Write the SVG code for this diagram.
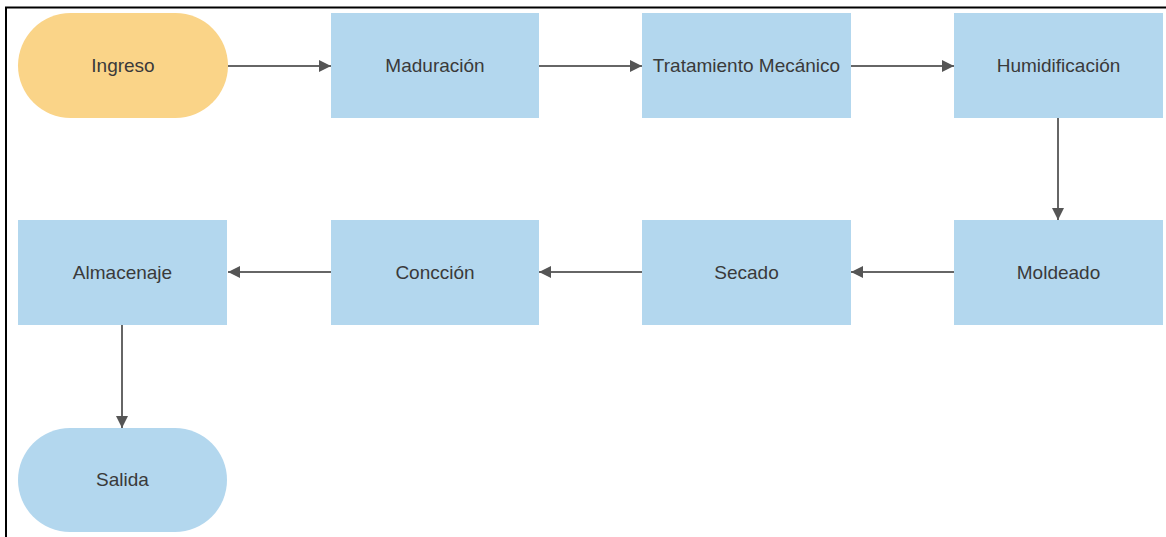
<svg xmlns="http://www.w3.org/2000/svg" width="1166" height="537" viewBox="0 0 1166 537">
  <style>
    .box { fill: #b3d7ee; }
    .start { fill: #fad488; }
    .lbl { font-family: "Liberation Sans", Arial, sans-serif; font-size: 19px; fill: #3a3a3a; text-anchor: middle; dominant-baseline: central; }
    .conn { stroke: #666666; stroke-width: 2; fill: none; marker-end: url(#arrow); }
  </style>
  <defs>
    <marker id="arrow" viewBox="0 0 12 12" refX="12" refY="6" markerWidth="12" markerHeight="12" markerUnits="userSpaceOnUse" orient="auto">
      <path d="M0,0 L12,6 L0,12 Z" fill="#555555"/>
    </marker>
  </defs>
  <rect x="0" y="0" width="1166" height="537" fill="#ffffff"/>
  <path d="M6,537 V7.5 H1166" stroke="#000000" stroke-width="2" fill="none"/>

  <g id="connectors">
    <line class="conn" x1="228" y1="66" x2="331" y2="66"/>
    <line class="conn" x1="539" y1="66" x2="642" y2="66"/>
    <line class="conn" x1="851" y1="66" x2="954" y2="66"/>
    <line class="conn" x1="1058" y1="118" x2="1058" y2="220"/>
    <line class="conn" x1="954" y1="272" x2="851" y2="272"/>
    <line class="conn" x1="642" y1="272" x2="539" y2="272"/>
    <line class="conn" x1="331" y1="272" x2="228" y2="272"/>
    <line class="conn" x1="122" y1="325" x2="122" y2="428"/>
  </g>

  <g id="ingreso">
    <rect class="start" x="18" y="13" width="210" height="105" rx="52.5" ry="52.5"/>
    <text class="lbl" x="123" y="65">Ingreso</text>
  </g>
  <g id="maduracion">
    <rect class="box" x="331" y="13" width="208" height="105"/>
    <text class="lbl" x="435" y="65">Maduración</text>
  </g>
  <g id="tratamiento">
    <rect class="box" x="642" y="13" width="209" height="105"/>
    <text class="lbl" x="746.5" y="65">Tratamiento Mecánico</text>
  </g>
  <g id="humidificacion">
    <rect class="box" x="954" y="13" width="209" height="105"/>
    <text class="lbl" x="1058.5" y="65">Humidificación</text>
  </g>
  <g id="moldeado">
    <rect class="box" x="954" y="220" width="209" height="105"/>
    <text class="lbl" x="1058.5" y="272">Moldeado</text>
  </g>
  <g id="secado">
    <rect class="box" x="642" y="220" width="209" height="105"/>
    <text class="lbl" x="746.5" y="272">Secado</text>
  </g>
  <g id="conccion">
    <rect class="box" x="331" y="220" width="208" height="105"/>
    <text class="lbl" x="435" y="272">Concción</text>
  </g>
  <g id="almacenaje">
    <rect class="box" x="18" y="220" width="209" height="105"/>
    <text class="lbl" x="122.5" y="272">Almacenaje</text>
  </g>
  <g id="salida">
    <rect class="box" x="18" y="428" width="209" height="104" rx="52" ry="52"/>
    <text class="lbl" x="122.5" y="479">Salida</text>
  </g>
</svg>
